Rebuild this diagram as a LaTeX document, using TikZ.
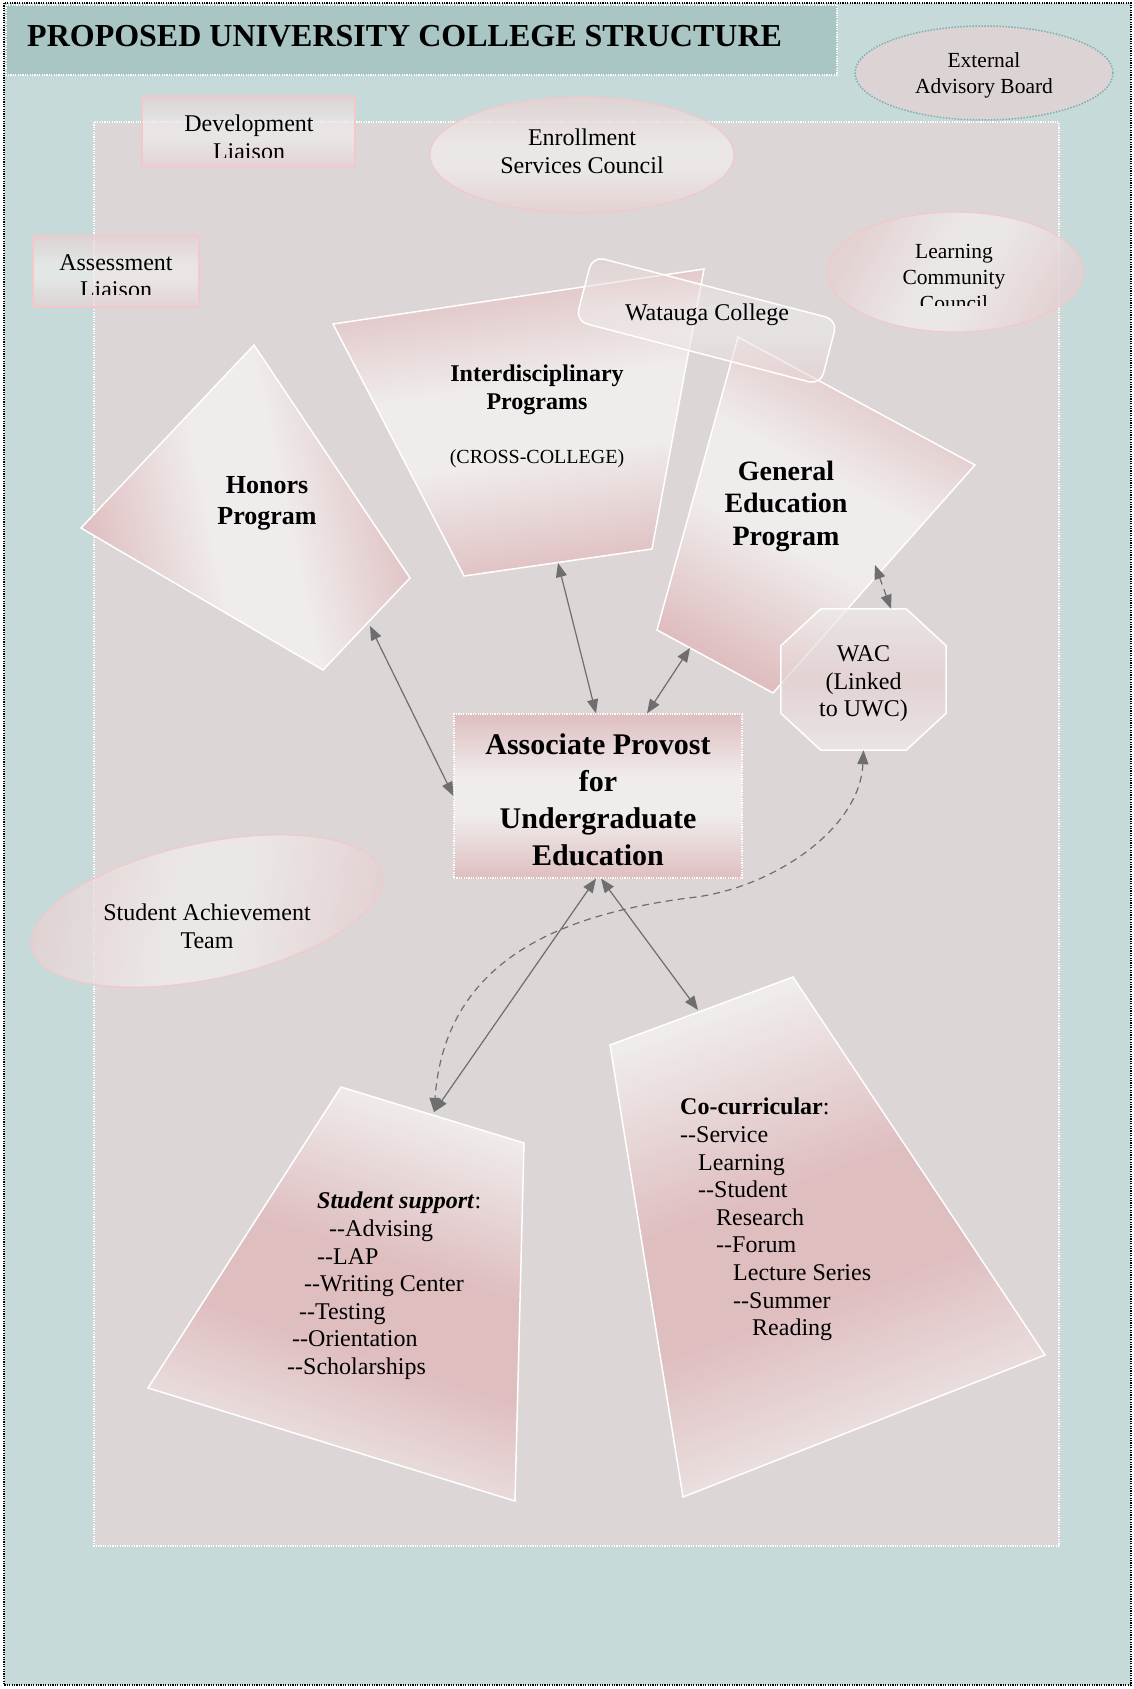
\documentclass[tikz,border=0pt]{standalone}
\usepackage{fontspec}
\setmainfont{Liberation Serif}
\usetikzlibrary{arrows.meta,positioning,shapes.geometric,calc}

\definecolor{tealbg}{HTML}{C6DAD9}
\definecolor{titlebg}{HTML}{A9C5C4}
\definecolor{innerbg}{HTML}{DCD6D6}
\definecolor{pinkA}{HTML}{DFBEC0}
\definecolor{lightA}{HTML}{EFECEB}
\definecolor{pinkB}{HTML}{E6D1D2}
\definecolor{extfill}{HTML}{DCD3D4}
\definecolor{edgepink}{HTML}{F2C8CA}
\definecolor{dotteal}{HTML}{7FB0B0}
\definecolor{arrgray}{HTML}{6E6E6E}

\pgfdeclareverticalshading{pinkmid}{100bp}{color(0bp)=(pinkA); color(25bp)=(pinkA); color(44bp)=(lightA); color(56bp)=(lightA); color(75bp)=(pinkA); color(100bp)=(pinkA)}
\pgfdeclareverticalshading{lightmid}{100bp}{color(0bp)=(lightA); color(25bp)=(lightA); color(44bp)=(pinkA); color(56bp)=(pinkA); color(75bp)=(lightA); color(100bp)=(lightA)}
\pgfdeclareverticalshading{softmid}{100bp}{color(0bp)=(pinkB); color(25bp)=(pinkB); color(45bp)=(lightA); color(55bp)=(lightA); color(75bp)=(pinkB); color(100bp)=(pinkB)}
\pgfdeclareverticalshading{softband}{100bp}{color(0bp)=(lightA); color(25bp)=(lightA); color(50bp)=(pinkB); color(75bp)=(lightA); color(100bp)=(lightA)}

\newcommand{\dsh}{\mbox{-}\mbox{-}}

\tikzset{
  plainlbl/.style={font=\fontsize{24}{27.6}\selectfont, align=center, inner sep=0pt},
  smalllbl/.style={font=\fontsize{21.5}{26}\selectfont, align=center, inner sep=0pt},
  listlbl/.style={font=\fontsize{24}{27.6}\selectfont, align=left, inner sep=0pt, anchor=north west},
  liaisonbox/.style={draw=edgepink, line width=1.2pt, shade, shading=softmid, fill opacity=0.7, inner sep=0pt},
  councilell/.style={ellipse, draw=edgepink, line width=1.2pt, shade, shading=softmid, fill opacity=0.8, inner sep=0pt},
  progshape/.style={draw=white, line width=1.5pt, shade, shading=pinkmid},
  supshape/.style={draw=white, line width=1.5pt, shade, shading=lightmid},
  link/.style={draw=arrgray, line width=1.2pt, {Triangle[length=14pt,width=11pt]}-{Triangle[length=14pt,width=11pt]}},
  dashlink/.style={link, dash pattern=on 7pt off 5pt},
}

\begin{document}
\begin{tikzpicture}[x=1pt,y=-1pt]
\useasboundingbox (0,0) rectangle (1134,1689);

% page, title band, inner panel
\draw[fill=tealbg, draw=black, line width=1.5pt, dash pattern=on 1.2pt off 1.2pt] (4,3) rectangle (1131,1685);
\draw[fill=titlebg, draw=white, line width=1.2pt, dash pattern=on 1.2pt off 1.2pt] (6,5) rectangle (837,75);
\draw[fill=innerbg, draw=white, line width=1.2pt, dash pattern=on 1.2pt off 1.2pt] (94,122) rectangle (1059,1546);
\node[font=\fontsize{32}{38}\selectfont\bfseries, anchor=base west, inner sep=0pt] (title) at (27,46) {PROPOSED UNIVERSITY COLLEGE STRUCTURE};

% councils and liaisons
\node[ellipse, minimum width=258, minimum height=94, fill=extfill, draw=dotteal, line width=1.5pt, dash pattern=on 1.5pt off 1.5pt] (extb) at (984,73) {};
\node[smalllbl] (extb-t) at (984,75) {External\\Advisory Board};

\node[liaisonbox, minimum width=213, minimum height=71] (devl) at (248.5,131.5) {};
\begin{scope}
  \clip (devl.north west) rectangle ([yshift=10]devl.south east);
  \node[plainlbl] (devl-t) at (249,137) {Development\\Liaison};
\end{scope}

\node[liaisonbox, minimum width=166, minimum height=71] (assl) at (116,271.5) {};
\begin{scope}
  \clip (assl.north west) rectangle ([yshift=13]assl.south east);
  \node[plainlbl] (assl-t) at (116,276) {Assessment\\Liaison};
\end{scope}

\node[councilell, minimum width=304, minimum height=116] (enrs) at (582,155) {};
\node[plainlbl] (enrs-t) at (582,151) {Enrollment\\Services Council};

\node[councilell, minimum width=256, minimum height=120, shading angle=60] (lcc) at (955,272) {};
\begin{scope}
  \clip (820,205) rectangle (1090,305);
  \node[smalllbl] (lcc-t) at (954,277) {Learning\\Community\\Council};
\end{scope}

\node[councilell, minimum width=358, minimum height=136, rotate=12, shading angle=80] (sat) at (207,911) {};
\node[plainlbl] (sat-t) at (207,926) {Student Achievement\\Team};

% program shapes
\path[progshape, shading angle=102] (254,345) -- (410,578) -- (323,670) -- (81,528) -- cycle;
\path[progshape, shading angle=8] (333,324) -- (704,269) -- (652,549) -- (464,576) -- cycle;
\path[progshape, shading angle=-28] (738,337) -- (975,465) -- (773,693) -- (657,630) -- cycle;

\node[draw=white, line width=1.5pt, rounded corners=12pt, minimum width=253, minimum height=67, rotate=-14.6, shade, shading=softmid, fill opacity=0.55] (wat) at (706.5,320.5) {};
\node[plainlbl] (wat-t) at (707,315) {Watauga College};

\node[minimum width=165, minimum height=141] (wac) at (863.5,679.5) {};
\path[draw=white, line width=1.5pt, shade, shading=softband, fill opacity=0.7]
  ([xshift=40]wac.north west) -- ([xshift=-40]wac.north east) -- ([yshift=-37]wac.north east)
  -- ([yshift=37]wac.south east) -- ([xshift=-40]wac.south east) -- ([xshift=40]wac.south west)
  -- ([yshift=37]wac.south west) -- ([yshift=-37]wac.north west) -- cycle;
\node[plainlbl] (wac-t) at (863.5,684) {WAC\\(Linked\\to UWC)};

\node[minimum width=288, minimum height=164, shade, shading=pinkmid, draw=white, line width=1.2pt, dash pattern=on 1.2pt off 1.2pt] (prov) at (598,796) {};
\node[font=\fontsize{30}{37}\selectfont\bfseries, align=center, inner sep=0pt] (prov-t) at ([yshift=-4]prov.center) {Associate Provost\\for\\Undergraduate\\Education};

% support shapes
\path[supshape, shading angle=-18] (341,1087) -- (524,1143) -- (515,1501) -- (148,1388) -- cycle;
\path[supshape, shading angle=20] (793,977) -- (1045,1355) -- (683,1497) -- (610,1045) -- cycle;

% labels on shapes
\node[font=\fontsize{26}{31}\selectfont\bfseries, align=center, inner sep=0pt] (hon-t) at (267,503) {Honors\\Program};
\node[font=\fontsize{24}{28}\selectfont\bfseries, align=center, inner sep=0pt] (int-t) at (537,390) {Interdisciplinary\\Programs};
\node[font=\fontsize{20}{23}\selectfont, inner sep=0pt] (int-sub) at (537,459) {(CROSS-COLLEGE)};
\node[font=\fontsize{28}{32.5}\selectfont\bfseries, align=center, inner sep=0pt] (gen-t) at (786,506) {General\\Education\\Program};
\node[listlbl] (sup-t) at (287,1192) {\hspace*{30pt}\textbf{\textit{Student support}}:\\
  \hspace*{42pt}\dsh Advising\\
  \hspace*{30pt}\dsh LAP\\
  \hspace*{17pt}\dsh Writing Center\\
  \hspace*{12pt}\dsh Testing\\
  \hspace*{5pt}\dsh Orientation\\
  \dsh Scholarships};
\node[listlbl] (coc-t) at (680,1098) {\textbf{Co-curricular}:\\
  \dsh Service\\
  \hspace*{18pt}Learning\\
  \hspace*{18pt}\dsh Student\\
  \hspace*{36pt}Research\\
  \hspace*{36pt}\dsh Forum\\
  \hspace*{53pt}Lecture Series\\
  \hspace*{53pt}\dsh Summer\\
  \hspace*{72pt}Reading};

% links
\coordinate (hon-a) at (370,626);
\coordinate (int-a) at (558,563);
\coordinate (gen-a) at (690,648);
\coordinate (gen-w) at (875,565);
\coordinate (sup-a) at (434,1112);
\coordinate (coc-a) at (698,1010);
\coordinate (bend) at (688,898);
\draw[link] (hon-a) -- (prov.west);
\draw[link] (int-a) -- ([xshift=-2]prov.north);
\draw[link] (gen-a) -- ([xshift=49]prov.north);
\draw[dashlink] (gen-w) -- ([xshift=27.5]wac.north);
\draw[link] ([xshift=-2]prov.south) -- (sup-a);
\draw[link] ([xshift=3]prov.south) -- (coc-a);
\draw[dashlink] (wac.south) .. controls (860,830) and (770,890) .. (bend) .. controls (560,915) and (445,960) .. (sup-a);
\end{tikzpicture}
\end{document}
